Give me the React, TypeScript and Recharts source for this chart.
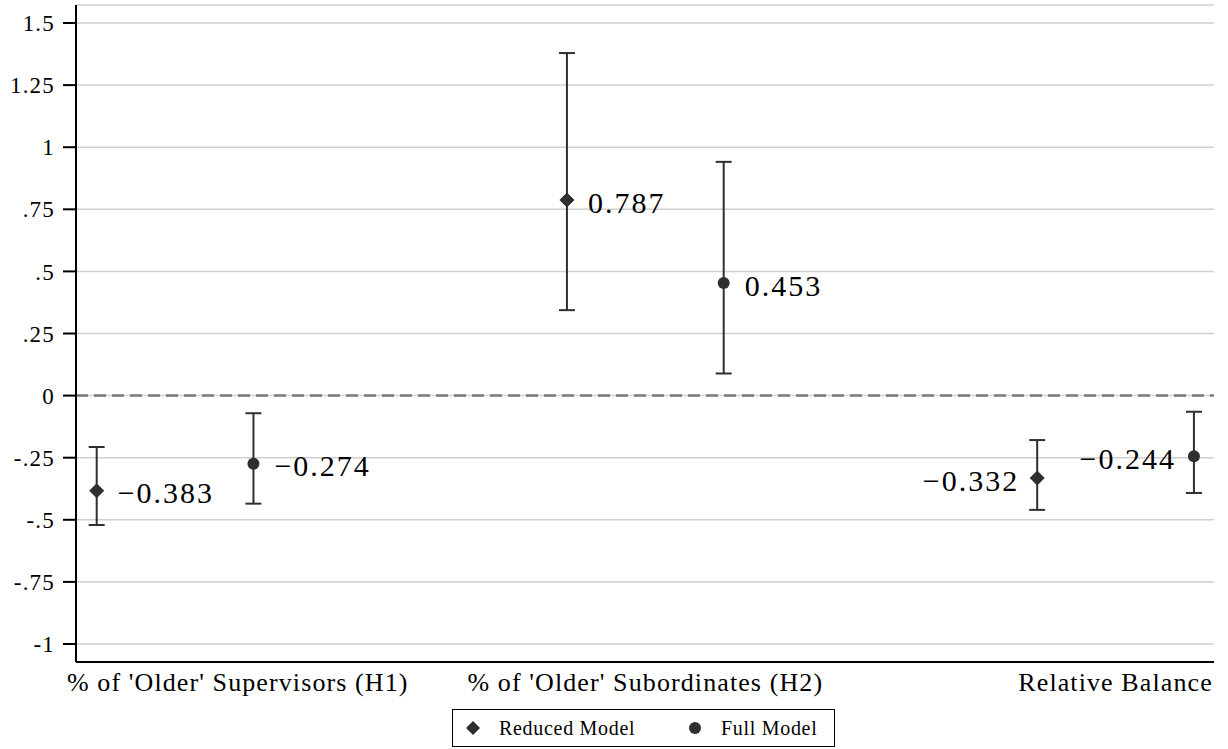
import React from 'react';
import {
  ComposedChart,
  Scatter,
  ErrorBar,
  XAxis,
  YAxis,
  CartesianGrid,
  ReferenceLine,
  Legend,
  LabelList
} from 'recharts';

const categories = ["% of 'Older' Supervisors (H1)", "% of 'Older' Subordinates (H2)", 'Relative Balance'];
const categoryTicks = [1.9, 4.5, 7.5];
const reducedX = [1, 4, 7];
const fullX = [2, 5, 8];

const reducedCoef = [-0.383, 0.787, -0.332];
const reducedLow = [-0.521, 0.344, -0.46];
const reducedHigh = [-0.207, 1.379, -0.179];

const fullCoef = [-0.274, 0.453, -0.244];
const fullLow = [-0.435, 0.089, -0.392];
const fullHigh = [-0.071, 0.941, -0.065];

const yTicks = [-1, -0.75, -0.5, -0.25, 0, 0.25, 0.5, 0.75, 1, 1.25, 1.5];

const INK = '#2f2f2f';
const FONT = "'Liberation Serif', 'Times New Roman', serif";

const build = (xs: number[], coef: number[], low: number[], high: number[]) =>
  xs.map((x, i) => ({
    x,
    coef: coef[i],
    err: [coef[i] - low[i], high[i] - coef[i]]
  }));

const reducedData = build(reducedX, reducedCoef, reducedLow, reducedHigh);
const fullData = build(fullX, fullCoef, fullLow, fullHigh);

const fmtY = (v: number) => {
  if (v === 0) return '0';
  const s = String(Math.abs(v)).replace(/^0/, '');
  return (v < 0 ? '-' : '') + s;
};

const fmtCoef = (v: number) => (v < 0 ? '\u2212' : '') + Math.abs(v).toFixed(3);

const DiamondShape = (props: any) => {
  const { cx, cy } = props;
  const s = 7.5;
  return <polygon points={`${cx},${cy - s} ${cx + s},${cy} ${cx},${cy + s} ${cx - s},${cy}`} fill={INK} />;
};

const DotShape = (props: any) => {
  const { cx, cy } = props;
  return <circle cx={cx} cy={cy} r={6} fill={INK} />;
};

// last group is labelled on the left side of its marker
const CoefLabel = (props: any) => {
  const { value, index } = props;
  const vb = props.viewBox || props;
  const cx = vb.x + (vb.width || 0) / 2;
  const cy = vb.y + (vb.height || 0) / 2;
  const left = index === categories.length - 1;
  return (
    <text
      x={left ? cx - 18 : cx + 21}
      y={cy + 2}
      dy="0.35em"
      textAnchor={left ? 'end' : 'start'}
      fontFamily={FONT}
      fontSize={30}
      letterSpacing={2}
      fill="#000"
    >
      {fmtCoef(Number(value))}
    </text>
  );
};

const CategoryTick = (props: any) => {
  const { x, y, index } = props;
  return (
    <text x={x} y={y + 29} textAnchor="middle" fontFamily={FONT} fontSize={26} letterSpacing={1.1} fill="#000">
      {categories[index]}
    </text>
  );
};

const LegendBox = () => (
  <div
    style={{
      position: 'relative',
      marginLeft: 452,
      width: 383,
      height: 38,
      border: '1.5px solid #000',
      boxSizing: 'border-box',
      fontFamily: FONT,
      fontSize: 20,
      letterSpacing: 0.7,
      color: '#000'
    }}
  >
    <svg width={16} height={16} style={{ position: 'absolute', left: 12, top: 10 }}>
      <polygon points="8,1 15,8 8,15 1,8" fill={INK} />
    </svg>
    <span style={{ position: 'absolute', left: 46, top: 7, lineHeight: '22px' }}>Reduced Model</span>
    <svg width={16} height={16} style={{ position: 'absolute', left: 234, top: 10 }}>
      <circle cx={8} cy={8} r={6} fill={INK} />
    </svg>
    <span style={{ position: 'absolute', left: 268, top: 7, lineHeight: '22px' }}>Full Model</span>
  </div>
);

const App: React.FC = () => {
  return (
    <div style={{ position: 'absolute', left: 0, top: 0, background: '#fff' }}>
      <ComposedChart width={1228} height={749} margin={{ top: 5, right: 14, bottom: 2, left: 0 }}>
        <CartesianGrid horizontal vertical={false} stroke="#d0d0d0" strokeWidth={1.5} />
        <XAxis
          type="number"
          dataKey="x"
          domain={[0.868, 8.128]}
          ticks={categoryTicks}
          interval={0}
          height={47}
          tickLine={false}
          tickSize={0}
          tickMargin={0}
          axisLine={{ stroke: '#000', strokeWidth: 2 }}
          tick={<CategoryTick />}
          allowDataOverflow
        />
        <YAxis
          type="number"
          domain={[-1.0725, 1.5725]}
          ticks={yTicks}
          interval={0}
          width={76}
          tickSize={13}
          tickMargin={8}
          tickFormatter={fmtY}
          axisLine={{ stroke: '#000', strokeWidth: 2 }}
          tickLine={{ stroke: '#000', strokeWidth: 2 }}
          tick={{ fontFamily: FONT, fontSize: 23, letterSpacing: 1.2, fill: '#000' }}
          allowDataOverflow
        />
        <ReferenceLine y={0} stroke="#7a7a7a" strokeWidth={2.5} strokeDasharray="12 6" />
        <Scatter name="Reduced Model" data={reducedData} dataKey="coef" shape={<DiamondShape />} isAnimationActive={false}>
          <ErrorBar dataKey="err" direction="y" width={8} stroke={INK} strokeWidth={2} />
          <LabelList dataKey="coef" content={<CoefLabel />} />
        </Scatter>
        <Scatter name="Full Model" data={fullData} dataKey="coef" shape={<DotShape />} isAnimationActive={false}>
          <ErrorBar dataKey="err" direction="y" width={8} stroke={INK} strokeWidth={2} />
          <LabelList dataKey="coef" content={<CoefLabel />} />
        </Scatter>
        <Legend verticalAlign="bottom" content={<LegendBox />} />
      </ComposedChart>
    </div>
  );
};

export default App;
